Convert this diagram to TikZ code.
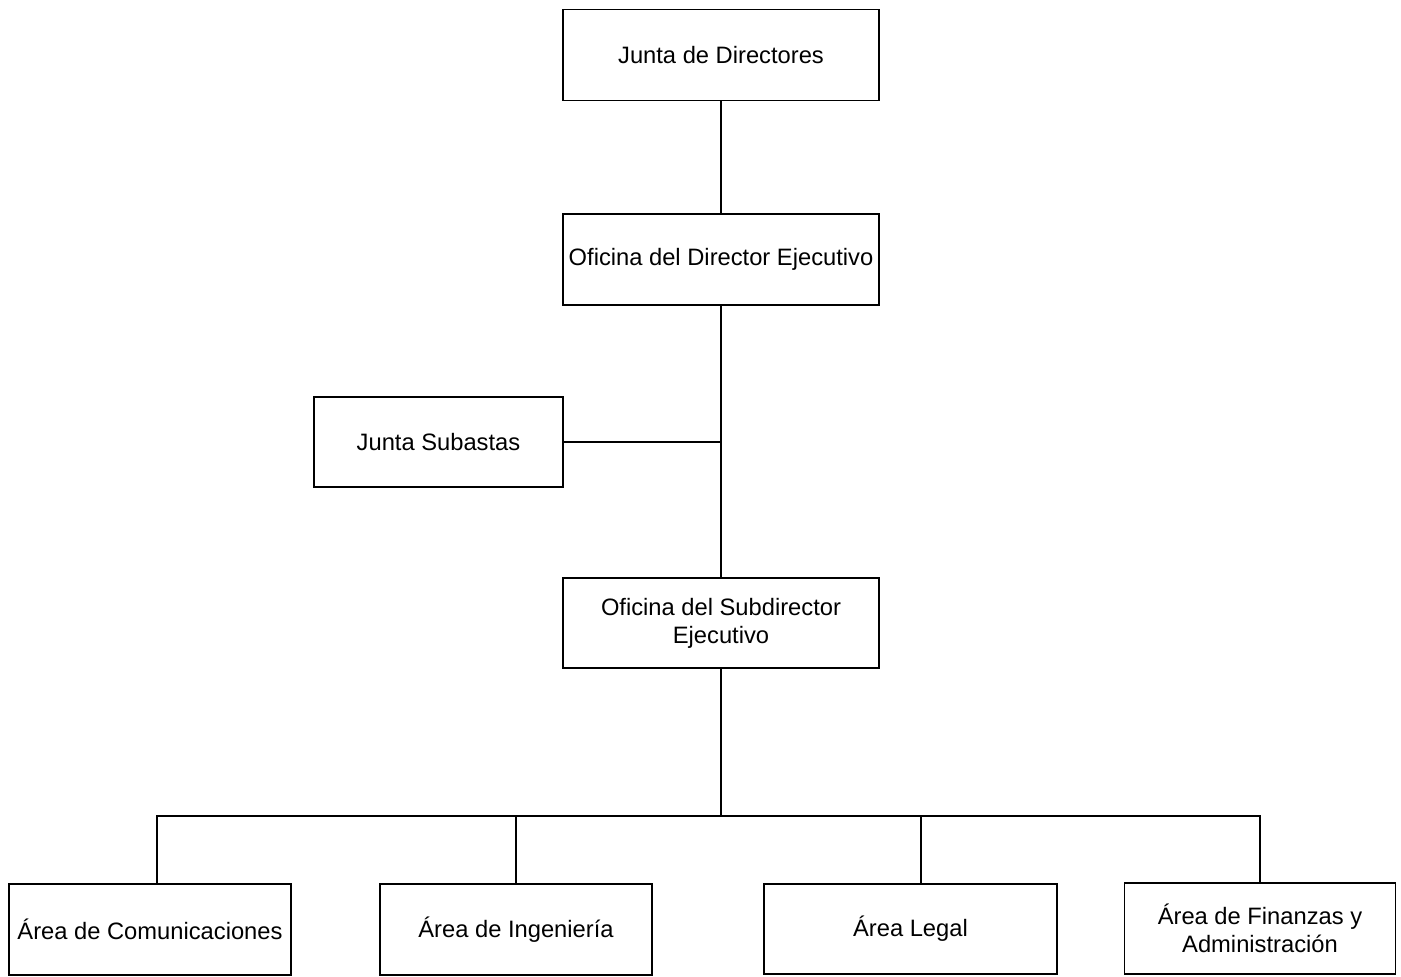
\documentclass[tikz,border=0pt]{standalone}
\usepackage{fontspec}
\setmainfont{Liberation Sans}
\usetikzlibrary{positioning}
\tikzset{every picture/.style={line width=0.9pt}}

\begin{document}
\begin{tikzpicture}
    [box/.style = {rectangle, draw, align=center, inner sep=1mm,
            font=\fontsize{13.5}{16}\selectfont, minimum height=1.82cm},
    ]
    \useasboundingbox (0, 0) rectangle (28.02, -19.54);

	\node[box, minimum width=6.32cm] (jd) at (14.42, -1.10) {Junta de Directores};
	\node[box, minimum width=6.32cm] (ode) at (14.42, -5.19) {Oficina del Director Ejecutivo};
	\node[box, minimum width=4.98cm, minimum height=1.80cm] (js) at (8.77, -8.84) {Junta Subastas};
	\node[box, minimum width=6.32cm, minimum height=1.80cm] (osd) at (14.42, -12.46) {Oficina del Subdirector\\Ejecutivo};

	\node[box, minimum width=5.64cm] (acom) at (3.00, -18.59) {Área de Comunicaciones};
	\node[box, minimum width=5.44cm] (aing) at (10.32, -18.59) {Área de Ingeniería};
	\node[box, minimum width=5.86cm, minimum height=1.80cm] (aleg) at (18.21, -18.58) {Área Legal};
	\node[box, minimum width=5.42cm] (afin) at (25.20, -18.57) {Área de Finanzas y\\Administración};

	\coordinate (bus) at (14.42, -16.32);
	\coordinate (bus-l) at (3.14, -16.32);
	\coordinate (bus-r) at (25.20, -16.32);

    \draw (jd.south) -- (ode.north);
    \draw (ode.south) -- (osd.north);
    \draw (js.east) -- (js.east -| ode.south);
    \draw (osd.south) -- (bus);
    \draw (bus-l |- acom.north) -- (bus-l) -- (bus-r) -- (afin.north);
    \draw (aing.north) -- (aing.north |- bus);
    \draw ([xshift=0.21cm]aleg.north) -- ([xshift=0.21cm]aleg.north |- bus);
\end{tikzpicture}
\end{document}
